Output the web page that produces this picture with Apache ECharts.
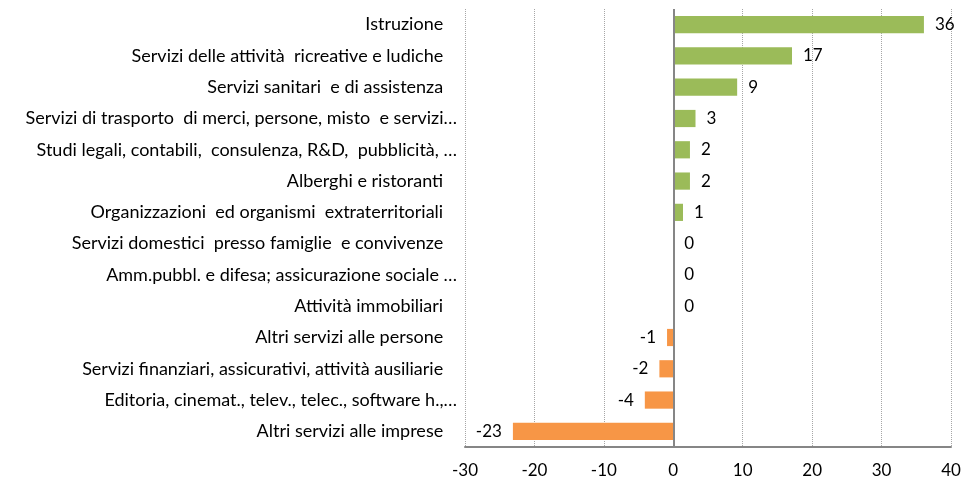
<!DOCTYPE html>
<html>
<head>
    <meta charset="UTF-8">
    <title>Settori servizi</title>
    <script src="https://cdn.jsdelivr.net/npm/echarts@6/dist/echarts.min.js"></script>
    <style>
        body { margin: 0; background: #fff; }
        #main { width: 967px; height: 486px; }
    </style>
</head>
<body>
    <div id="main"></div>
    <script type="text/javascript">
        // categorie (dall'alto verso il basso)
        var categorie = [
            'Istruzione',
            'Servizi delle attività  ricreative e ludiche',
            'Servizi sanitari  e di assistenza',
            'Servizi di trasporto  di merci, persone, misto  e servizi…',
            'Studi legali, contabili,  consulenza, R&D,  pubblicità, …',
            'Alberghi e ristoranti',
            'Organizzazioni  ed organismi  extraterritoriali',
            'Servizi domestici  presso famiglie  e convivenze',
            'Amm.pubbl. e difesa; assicurazione sociale …',
            'Attività immobiliari',
            'Altri servizi alle persone',
            'Servizi finanziari, assicurativi, attività ausiliarie',
            'Editoria, cinemat., telev., telec., software h.,…',
            'Altri servizi alle imprese'
        ];
        var valori = [36.1, 17.1, 9.2, 3.2, 2.4, 2.4, 1.4, 0, 0, 0, -0.9, -2, -4.1, -23.1];
        var tickX = [-30, -20, -10, 0, 10, 20, 30, 40];

        var verde = '#9BBB59';
        var arancio = '#F79646';

        // le etichette non troncate hanno uno spazio finale nell'originale
        var etichette = categorie.map(function (c) {
            return c.slice(-1) === '…' ? c : c + '   ';
        });

        var dati = valori.map(function (v) {
            return {
                value: v,
                itemStyle: { color: v < 0 ? arancio : verde },
                label: { position: v < 0 ? 'left' : 'right' }
            };
        });

        var myChart = echarts.init(document.getElementById('main'));

        var option = {
            animation: false,
            textStyle: { fontFamily: 'Lato, "Open Sans", sans-serif' },
            grid: {
                top: 9,
                bottom: 39,
                left: 465,
                right: 16,
                containLabel: false
            },
            xAxis: {
                type: 'value',
                min: tickX[0],
                max: tickX[tickX.length - 1],
                interval: 10,
                axisLine: { show: true, onZero: false, lineStyle: { color: '#868686', width: 2 } },
                axisTick: { show: false },
                axisLabel: { color: '#000', fontSize: 17, margin: 15 },
                splitLine: {
                    show: true,
                    lineStyle: { color: '#a6a6a6', type: [1, 1], width: 1 }
                }
            },
            yAxis: {
                type: 'category',
                inverse: true,
                data: etichette,
                axisLine: { show: false },
                axisTick: { show: false },
                axisLabel: { color: '#000', fontSize: 18, margin: 8 },
                splitLine: { show: false }
            },
            series: [
                {
                    type: 'bar',
                    data: dati,
                    barWidth: '55%',
                    label: {
                        show: true,
                        color: '#000',
                        fontSize: 17,
                        distance: 11,
                        formatter: function (p) { return Math.round(p.value); }
                    },
                    markLine: {
                        silent: true,
                        symbol: 'none',
                        label: { show: false },
                        lineStyle: { color: '#868686', type: 'solid', width: 2 },
                        data: [{ xAxis: 0 }]
                    }
                }
            ]
        };

        myChart.setOption(option);
    </script>
</body>
</html>
